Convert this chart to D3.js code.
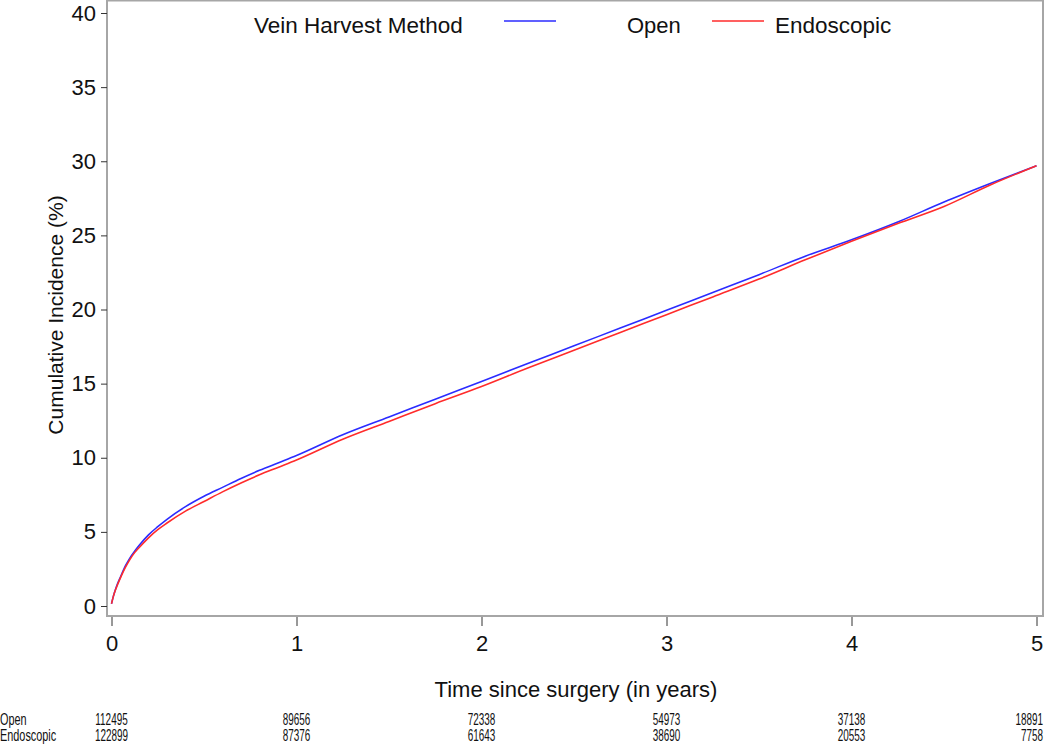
<!DOCTYPE html>
<html>
<head>
	<meta charset="utf-8">
	<script src="https://d3js.org/d3.v7.min.js"></script>
	<style>
		body { margin: 0; background: #fff; }
		svg text { font-family: 'Liberation Sans', Arial, sans-serif; fill: #111; }
		.risk { font-size: 16px; }
	</style>
</head>
<body>
<script>
	// times (years) and cumulative incidence (%)
	var times = [0, 0.01, 0.025, 0.05, 0.075, 0.1, 0.125, 0.15, 0.2, 0.25, 0.3, 0.4, 0.5, 0.6, 0.7, 0.8, 0.9, 1.0,
		1.25, 1.5, 1.75, 2.0, 2.25, 2.5, 2.75, 3.0, 3.25, 3.5, 3.75, 4.0, 4.25, 4.5, 4.75, 5.0];
	var openVals = [0.15, 0.65, 1.25, 2.0, 2.7, 3.25, 3.7, 4.1, 4.8, 5.35, 5.85, 6.7, 7.4, 8.0, 8.6, 9.15, 9.65, 10.15,
		11.55, 12.75, 13.95, 15.15, 16.35, 17.55, 18.75, 19.95, 21.15, 22.35, 23.6, 24.7, 25.9, 27.25, 28.5, 29.7];
	var endoVals = [0.15, 0.65, 1.2, 1.95, 2.6, 3.15, 3.6, 3.95, 4.6, 5.15, 5.6, 6.4, 7.05, 7.7, 8.3, 8.85, 9.35, 9.85,
		11.25, 12.45, 13.65, 14.8, 16.05, 17.25, 18.45, 19.65, 20.85, 22.05, 23.35, 24.6, 25.8, 26.95, 28.4, 29.7];

	var xTicks = [0, 1, 2, 3, 4, 5];
	var yTicks = [0, 5, 10, 15, 20, 25, 30, 35, 40];
	var riskOpen = [112495, 89656, 72338, 54973, 37138, 18891];
	var riskEndo = [122899, 87376, 61643, 38690, 20553, 7758];

	var W = 1050, H = 747;
	var svg = d3.select('body').append('svg')
		.attr('width', W)
		.attr('height', H);

	var x = d3.scaleLinear().domain([0, 5]).range([111.5, 1036.5]);
	var y = d3.scaleLinear().domain([0, 40]).range([606, 13]);

	// frame
	svg.append('rect')
		.attr('x', 107).attr('y', 0.5)
		.attr('width', 936).attr('height', 615.5)
		.attr('fill', 'none')
		.attr('stroke', '#a6a6a6')
		.attr('stroke-width', 2);

	// y axis
	var yAxis = svg.append('g')
		.attr('transform', 'translate(107,0)')
		.call(d3.axisLeft(y).tickValues(yTicks).tickSize(6).tickPadding(5).tickFormat(d3.format('d')));
	yAxis.select('.domain').remove();
	yAxis.selectAll('line').attr('stroke', '#333');
	yAxis.selectAll('text')
		.attr('font-size', 22)
		.attr('font-family', "'Liberation Sans', Arial, sans-serif")
		.attr('fill', '#111');

	// x axis
	var xAxis = svg.append('g')
		.attr('transform', 'translate(0,617)')
		.call(d3.axisBottom(x).tickValues(xTicks).tickSize(9).tickPadding(9).tickFormat(d3.format('d')));
	xAxis.select('.domain').remove();
	xAxis.selectAll('line').attr('stroke', '#333');
	xAxis.selectAll('text')
		.attr('font-size', 22)
		.attr('font-family', "'Liberation Sans', Arial, sans-serif")
		.attr('fill', '#111');

	// titles
	svg.append('text')
		.attr('x', 576).attr('y', 697)
		.attr('text-anchor', 'middle')
		.attr('font-size', 22)
		.text('Time since surgery (in years)');

	svg.append('text')
		.attr('transform', 'translate(63,315) rotate(-90)')
		.attr('text-anchor', 'middle')
		.attr('font-size', 21)
		.text('Cumulative Incidence (%)');

	// curves
	var line = d3.line()
		.x(function(d) { return x(d[0]); })
		.y(function(d) { return y(d[1]); })
		.curve(d3.curveMonotoneX);

	svg.append('path')
		.datum(d3.zip(times, openVals))
		.attr('d', line)
		.attr('fill', 'none')
		.attr('stroke', '#2b2bff')
		.attr('stroke-width', 1.6);

	svg.append('path')
		.datum(d3.zip(times, endoVals))
		.attr('d', line)
		.attr('fill', 'none')
		.attr('stroke', '#ff2b2b')
		.attr('stroke-width', 1.6);

	// legend
	svg.append('text')
		.attr('x', 254).attr('y', 33)
		.attr('font-size', 22.5)
		.text('Vein Harvest Method');
	svg.append('line')
		.attr('x1', 504).attr('x2', 556).attr('y1', 21).attr('y2', 21)
		.attr('stroke', '#2b2bff').attr('stroke-width', 1.6);
	svg.append('text')
		.attr('x', 627).attr('y', 33)
		.attr('font-size', 22)
		.text('Open');
	svg.append('line')
		.attr('x1', 712).attr('x2', 764).attr('y1', 21).attr('y2', 21)
		.attr('stroke', '#ff2b2b').attr('stroke-width', 1.6);
	svg.append('text')
		.attr('x', 775).attr('y', 33)
		.attr('font-size', 22.5)
		.text('Endoscopic');

	// number at risk table
	var rows = [['Open', riskOpen, 725], ['Endoscopic', riskEndo, 741]];
	rows.forEach(function(r) {
		svg.append('text')
			.attr('class', 'risk')
			.attr('transform', 'translate(0,' + r[2] + ') scale(0.68,1)')
			.text(r[0]);
		svg.selectAll(null)
			.data(r[1])
			.enter()
			.append('text')
			.attr('class', 'risk')
			.attr('text-anchor', function(d, i) { return i === 5 ? 'end' : 'middle'; })
			.attr('transform', function(d, i) {
				var px = i === 5 ? 1043 : x(xTicks[i]);
				return 'translate(' + px + ',' + r[2] + ') scale(0.62,1)';
			})
			.text(function(d) { return d; });
	});
</script>
</body>
</html>
